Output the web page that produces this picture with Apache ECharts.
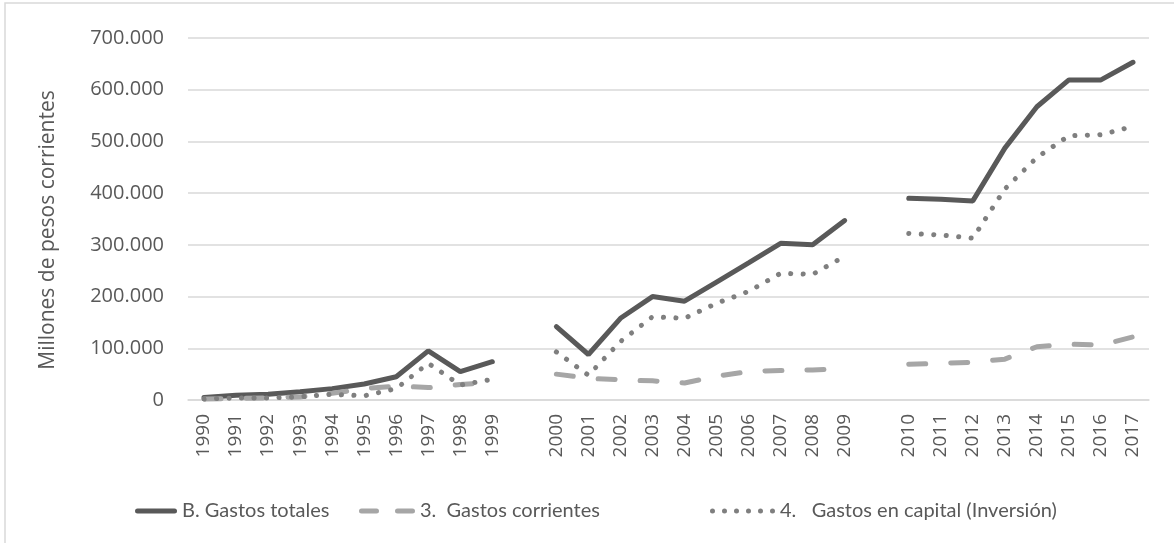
<!DOCTYPE html>
<html>
<head>
<meta charset="utf-8">
<script src="https://cdn.jsdelivr.net/npm/echarts@6/dist/echarts.min.js"></script>
<style>
  html, body { margin: 0; padding: 0; background: #fff; }
  #chart { width: 1174px; height: 543px; }
</style>
</head>
<body>
<div id="chart"></div>
<script>
// años, con una categoría vacía entre cada década
var years = ['1990', '1991', '1992', '1993', '1994', '1995', '1996', '1997', '1998', '1999', '',
  '2000', '2001', '2002', '2003', '2004', '2005', '2006', '2007', '2008', '2009', '',
  '2010', '2011', '2012', '2013', '2014', '2015', '2016', '2017']

var gastosTotales = [5000, 9000, 11000, 16000, 22000, 31000, 45000, 95000, 55000, 74000, null,
  142000, 88000, 158000, 200000, 191000, 228000, 265000, 303000, 300000, 347000, null,
  390000, 388000, 385000, 487000, 567000, 619000, 619000, 653000]

var gastosCorrientes = [2000, 3000, 4000, 6000, 13000, 22000, 27000, 24000, 30000, 34000, null,
  50000, 42000, 39000, 37000, 33000, 46000, 55000, 57000, 58000, 61000, null,
  69000, 71000, 73000, 79000, 103000, 108000, 106000, 122000]

var gastosCapital = [2000, 4000, 4000, 6000, 11000, 8000, 22000, 71000, 29000, 40000, null,
  93000, 48000, 113000, 161000, 158000, 187000, 210000, 245000, 243000, 278000, null,
  322000, 319000, 313000, 408000, 469000, 511000, 513000, 529000]

var yTicks = { min: 0, max: 700000, step: 100000 }

var names = ['B. Gastos totales', '3.  Gastos corrientes', '4.   Gastos en capital (Inversión)']

var chart = echarts.init(document.getElementById('chart'))

function fmt(v) {
  return String(v).replace(/\B(?=(\d{3})+(?!\d))/g, '.')
}

function bar(x0, x1) {
  return 'M' + (x0 + 2.5) + ',0 L' + (x1 - 2.5) + ',0 A2.5,2.5 0 0 1 ' + (x1 - 2.5) + ',5 L' +
    (x0 + 2.5) + ',5 A2.5,2.5 0 0 1 ' + (x0 + 2.5) + ',0 Z '
}
function dot(cx) {
  return 'M' + (cx - 2.5) + ',2.5 A2.5,2.5 0 1 1 ' + (cx + 2.5) + ',2.5 A2.5,2.5 0 1 1 ' + (cx - 2.5) + ',2.5 Z '
}

var iconSolid = 'path://' + bar(0, 42)
var iconDash = 'path://' + bar(0, 20) + bar(36, 56)
var iconDot = 'path://' + dot(2.5) + dot(14.5) + dot(26.5) + dot(38.5) + dot(50.5) + dot(62.5)

var legendText = { fontFamily: 'Lato', fontSize: 20, color: '#595959' }

chart.setOption({
  animation: false,
  backgroundColor: '#fff',
  graphic: [{
    type: 'rect',
    shape: { x: 5, y: 3, width: 1185, height: 560 },
    style: { fill: null, stroke: '#D9D9D9', lineWidth: 1.5 },
    silent: true
  }, {
    type: 'text',
    x: 48,
    y: 230,
    rotation: Math.PI / 2,
    style: {
      text: 'Millones de pesos corrientes',
      fill: '#595959',
      font: '21px "Open Sans"',
      textAlign: 'center',
      textVerticalAlign: 'middle'
    },
    silent: true
  }],
  grid: {
    left: 188,
    right: 25,
    top: 38,
    bottom: 143
  },
  legend: [{
    left: 130, top: 496, itemWidth: 42, itemHeight: 5, icon: iconSolid,
    data: [names[0]], textStyle: legendText
  }, {
    left: 354, top: 496, itemWidth: 56, itemHeight: 5, icon: iconDash,
    data: [names[1]], textStyle: legendText
  }, {
    left: 705, top: 496, itemWidth: 65, itemHeight: 5, icon: iconDot,
    data: [names[2]], textStyle: legendText
  }],
  xAxis: {
    type: 'category',
    data: years,
    boundaryGap: true,
    axisLine: { lineStyle: { color: '#D9D9D9', width: 1.5 } },
    axisTick: { show: false },
    axisLabel: {
      interval: 0,
      rotate: 90,
      margin: 14,
      color: '#595959',
      fontFamily: 'Open Sans',
      fontSize: 19
    }
  },
  yAxis: {
    type: 'value',
    min: yTicks.min,
    max: yTicks.max,
    interval: yTicks.step,
    axisLine: { show: false },
    axisTick: { show: false },
    splitLine: { lineStyle: { color: '#D9D9D9', width: 1.5 } },
    axisLabel: {
      margin: 24,
      color: '#595959',
      fontFamily: 'Open Sans',
      fontSize: 20,
      formatter: fmt
    }
  },
  series: [{
    name: names[0],
    type: 'line',
    data: gastosTotales,
    symbol: 'none',
    itemStyle: { color: '#595959' },
    lineStyle: { color: '#595959', width: 5, cap: 'round' }
  }, {
    name: names[1],
    type: 'line',
    data: gastosCorrientes,
    symbol: 'none',
    itemStyle: { color: '#A6A6A6' },
    lineStyle: { color: '#A6A6A6', width: 5, type: [17, 25], cap: 'round' }
  }, {
    name: names[2],
    type: 'line',
    data: gastosCapital,
    symbol: 'none',
    itemStyle: { color: '#7F7F7F' },
    lineStyle: { color: '#7F7F7F', width: 5, type: [0.1, 12.4], cap: 'round' }
  }]
})
</script>
</body>
</html>
